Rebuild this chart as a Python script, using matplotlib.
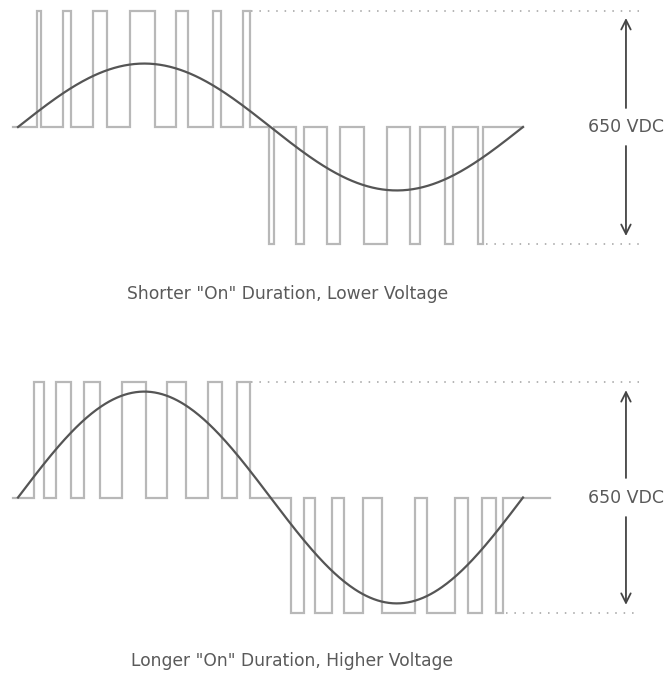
import numpy as np
import matplotlib
matplotlib.use("Agg")
import matplotlib.pyplot as plt

# ---- data (phase in degrees, voltage in V; bus = 650 VDC -> +/-325 V) ----
BUS_HALF = 325.0
caption_top = 'Shorter "On" Duration, Lower Voltage'
caption_bot = 'Longer "On" Duration, Higher Voltage'
bus_label = "650 VDC"

# top panel (lower output voltage)
top_pos_on = [13.5, 32.1, 53.5, 79.8, 112.6, 139.0, 160.4]
top_pos_off = [16.4, 37.8, 63.4, 97.7, 121.2, 144.7, 165.4]
top_neg_on = [179.0, 198.2, 220.3, 246.6, 279.4, 304.4, 327.9]
top_neg_off = [182.5, 203.9, 229.5, 263.0, 286.6, 310.1, 331.5]
top_amp = 177.0
top_start, top_end = -3.6, 360.0

# bottom panel (higher output voltage)
bot_pos_on = [11.4, 27.1, 47.0, 74.1, 106.2, 135.4, 156.1]
bot_pos_off = [18.5, 37.8, 58.5, 91.2, 119.8, 145.4, 165.4]
bot_neg_on = [194.6, 211.7, 232.4, 259.5, 291.6, 320.8, 340.7]
bot_neg_off = [203.9, 223.8, 245.9, 283.0, 311.5, 330.8, 345.7]
bot_amp = 298.0
bot_start, bot_end = -3.6, 379.0

W, H, DPI = 668, 679, 100
fig = plt.figure(figsize=(W / DPI, H / DPI), dpi=DPI)
plt.rcParams['font.family'] = ['DejaVu Sans']

PX_PER_DEG = 505.0 / 360.0
X0_PX = 18.0
xlim = (-X0_PX / PX_PER_DEG, (W - X0_PX) / PX_PER_DEG)

PULSE_C = '#b8b8b8'
SINE_C = '#555555'
TEXT_C = '#5a5a5a'
DOT_C = '#a0a0a0'
ARROW_C = '#444444'
ARROW_X = 433.4


def make_axes(top_px, bottom_px, base_px, scale_px):
    ax = fig.add_axes([0, 1 - bottom_px / H, 1, (bottom_px - top_px) / H])
    ytop = (base_px - top_px) / scale_px * BUS_HALF
    ybot = -(bottom_px - base_px) / scale_px * BUS_HALF
    ax.set_xlim(*xlim)
    ax.set_ylim(ybot, ytop)
    ax.axis('off')
    return ax


def pulse_wave(pos_on, pos_off, neg_on, neg_off, start, end):
    xs, ys = [start], [0.0]
    for a, b in zip(pos_on, pos_off):
        xs += [a, a, b, b]
        ys += [0, BUS_HALF, BUS_HALF, 0]
    for a, b in zip(neg_on, neg_off):
        xs += [a, a, b, b]
        ys += [0, -BUS_HALF, -BUS_HALF, 0]
    xs.append(end)
    ys.append(0.0)
    return np.array(xs), np.array(ys)


def draw_panel(ax, pos_on, pos_off, neg_on, neg_off, amp, start, end,
               arrow_inner, arrow_tip):
    x, y = pulse_wave(pos_on, pos_off, neg_on, neg_off, start, end)
    ax.plot(x, y, color=PULSE_C, lw=1.6, solid_joinstyle='miter')
    th = np.linspace(0, 360, 400)
    ax.plot(th, amp * np.sin(np.radians(th)), color=SINE_C, lw=1.6)
    # dotted bus rails
    ax.plot([pos_off[-1] + 1, 443], [BUS_HALF, BUS_HALF], color=DOT_C, lw=1.1,
            linestyle=(0, (1, 4.5)))
    ax.plot([neg_off[-1] + 2, 443], [-BUS_HALF, -BUS_HALF], color=DOT_C, lw=1.1,
            linestyle=(0, (1, 4.5)))
    # arrows + label
    for sgn in (1, -1):
        ax.annotate('', xy=(ARROW_X, sgn * arrow_tip),
                    xytext=(ARROW_X, sgn * arrow_inner),
                    arrowprops=dict(arrowstyle='->', color=ARROW_C, lw=1.3,
                                    mutation_scale=17, shrinkA=0, shrinkB=0))
    ax.text(ARROW_X, 0, bus_label, ha='center', va='center', fontsize=12.5,
            color=TEXT_C)


ax1 = make_axes(0, 262, 127.0, 116.5)
draw_panel(ax1, top_pos_on, top_pos_off, top_neg_on, top_neg_off, top_amp,
           top_start, top_end, 53, 304)

ax2 = make_axes(370, 632, 497.5, 115.5)
draw_panel(ax2, bot_pos_on, bot_pos_off, bot_neg_on, bot_neg_off, bot_amp,
           bot_start, bot_end, 55, 302)

fig.text(288 / W, 1 - 294 / H, caption_top, ha='center', va='center',
         fontsize=12.3, color=TEXT_C)
fig.text(292 / W, 1 - 661 / H, caption_bot, ha='center', va='center',
         fontsize=12.3, color=TEXT_C)

fig.savefig('out.png', dpi=DPI, facecolor='white')
